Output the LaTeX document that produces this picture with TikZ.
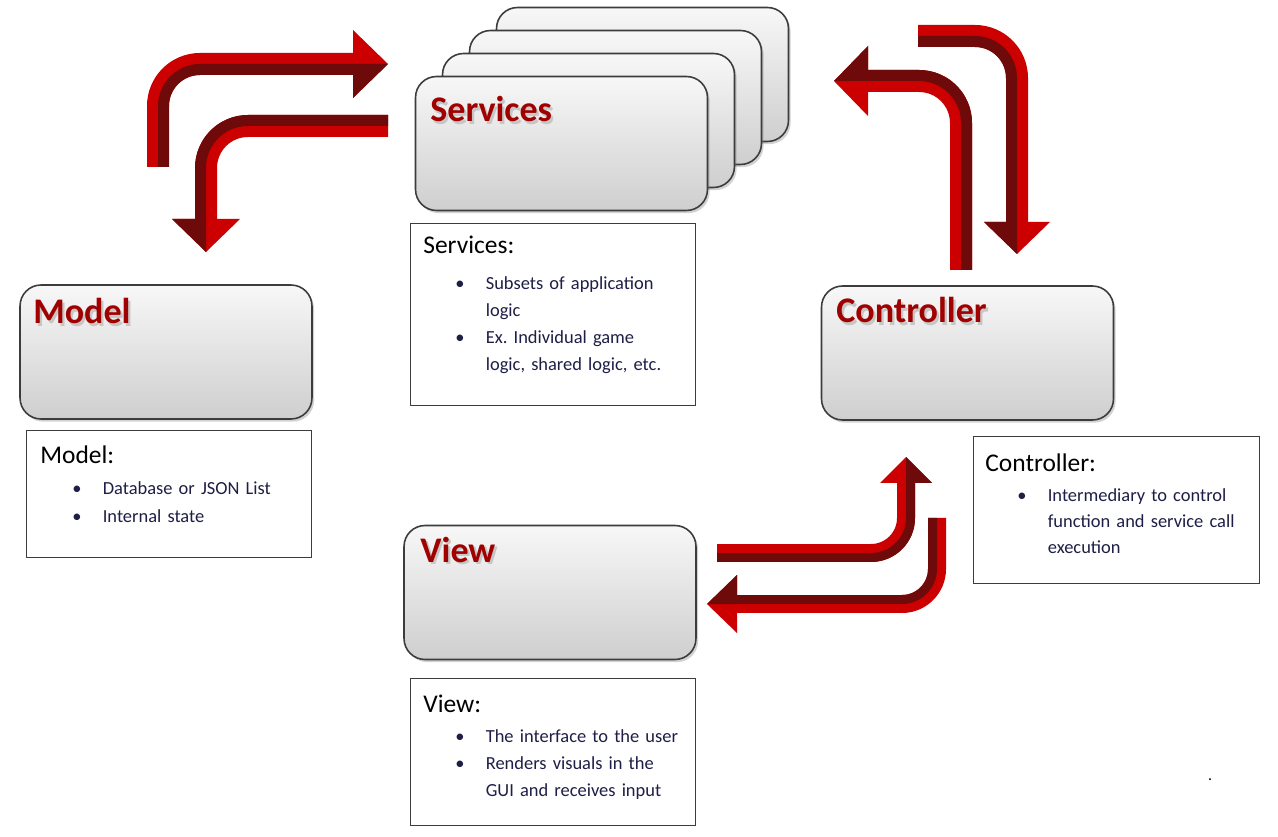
\documentclass[tikz,border=0pt]{standalone}
\usepackage{fontspec}
\setmainfont{Carlito}
\usetikzlibrary{shadows}
\frenchspacing

\definecolor{arrowred}{HTML}{CC0000}
\definecolor{arrowdark}{HTML}{6E0A0A}
\definecolor{titlered}{HTML}{A00000}
\definecolor{boxline}{HTML}{3C3C3C}
\definecolor{listtext}{HTML}{1E1E46}

\newcommand{\headfont}{\fontsize{14.5}{17}\selectfont}
\newcommand{\litem}[1]{\hspace*{0.64cm}\makebox[0.61cm][l]{\textbullet}#1}
\newcommand{\lcont}[1]{\hspace*{1.25cm}#1}
\newcommand{\ttl}[1]{\makebox[0pt][l]{\hspace{1.3pt}\raisebox{-1.3pt}{\color{gray!45}#1}}#1}

\tikzset{
	block/.style={draw=boxline, line width=0.9pt, rounded corners=0.42cm, top color=gray!6, bottom color=gray!38, minimum width=5.84cm, minimum height=2.68cm, drop shadow={shadow xshift=1.2pt, shadow yshift=-1.5pt, opacity=0.35}},
	blocktitle/.style={anchor=base west, text=titlered, inner sep=0pt, font=\bfseries\fontsize{20.5}{24}\selectfont},
	descbox/.style={draw=boxline, line width=0.8pt, fill=white, inner sep=0pt, minimum width=5.7cm, anchor=north west},
	desctext/.style={anchor=north west, inner sep=0pt, align=left, text width=5.5cm, text=listtext, font=\fontsize{10.5}{15.3}\selectfont},
	shaft/.style={draw=arrowred, line width=0.44cm},
	shaftshade/.style={draw=arrowdark, line width=0.22cm},
	thinshaft/.style={draw=arrowred, line width=0.36cm},
	thinshade/.style={draw=arrowdark, line width=0.18cm},
}

\begin{document}
\begin{tikzpicture}[x=0.02cm, y=-0.02cm]
	\fill[white] (0,0) rectangle (1278,837);
	\useasboundingbox (0,0) rectangle (1278,837);

	% services stack
	\node[block] (serv4) at (642.5,74.5) {};
	\node[block] (serv3) at (615.5,97.5) {};
	\node[block] (serv2) at (588.5,120.5) {};
	\node[block] (serv) at (561.5,143.5) {};
	\node[block] (model) at (166,352) {};
	\node[block] (ctrl) at (967.5,353) {};
	\node[block] (view) at (550,592.5) {};

	\node[blocktitle] (servtitle) at (430,122) {\ttl{Services}};
	\node[blocktitle] (modeltitle) at (33,324) {\ttl{Model}};
	\node[blocktitle] (ctrltitle) at (836,323) {\ttl{Controller}};
	\node[blocktitle] (viewtitle) at (420,562) {\ttl{View}};

	% description boxes
	\node[descbox, minimum height=3.64cm] (servdesc) at (410,223) {};
	\node[descbox, minimum height=2.54cm] (modeldesc) at (26,430) {};
	\node[descbox, minimum height=2.94cm, minimum width=5.72cm] (ctrldesc) at (973,436) {};
	\node[descbox, minimum height=2.94cm] (viewdesc) at (410,678) {};

	\node[desctext] (servtext) at (423,236) {{\headfont\color{black}Services:}\\[5pt]
		\litem{Subsets of application}\\
		\lcont{logic}\\
		\litem{Ex. Individual game}\\
		\lcont{logic, shared logic, etc.}};
	\node[desctext] (modeltext) at (40,445) {{\headfont\color{black}Model:}\\[2.5pt]
		\litem{Database or JSON List}\\[1pt]
		\litem{Internal state}};
	\node[desctext] (ctrltext) at (985,453) {{\headfont\color{black}Controller:}\\[2pt]
		\litem{Intermediary to control}\\[-0.5pt]
		\lcont{function and service call}\\[-0.5pt]
		\lcont{execution}};
	\node[desctext] (viewtext) at (423,695) {{\headfont\color{black}View:}\\[1.5pt]
		\litem{The interface to the user}\\
		\litem{Renders visuals in the}\\
		\lcont{GUI and receives input}};

	% model -> services
	\draw[shaft, rounded corners=0.84cm] (158,167) -- (158,64) -- (353,64);
	\draw[shaftshade, rounded corners=0.73cm] (163.5,167) -- (163.5,69.5) -- (353,69.5);
	\fill[arrowred] (353,30) -- (388,64) -- (353,98) -- cycle;
	\fill[arrowdark] (353,64) -- (388,64) -- (353,98) -- cycle;

	% services -> model
	\draw[shaft, rounded corners=0.84cm] (388,126) -- (206,126) -- (206,219);
	\draw[shaftshade, rounded corners=0.95cm] (388,120.5) -- (200.5,120.5) -- (200.5,219);
	\fill[arrowred] (172,219) -- (240,219) -- (206,252) -- cycle;
	\fill[arrowdark] (172,219) -- (206,219) -- (206,252) -- cycle;

	% controller -> services
	\draw[shaft, rounded corners=0.84cm] (961,270) -- (961,81) -- (868,81);
	\draw[shaftshade, rounded corners=0.95cm] (966.5,270) -- (966.5,75.5) -- (868,75.5);
	\fill[arrowred] (868,46) -- (834,81) -- (868,116) -- cycle;
	\fill[arrowdark] (868,46) -- (834,81) -- (868,81) -- cycle;

	% services -> controller
	\draw[shaft, rounded corners=0.84cm] (918,36) -- (1017,36) -- (1017,222);
	\draw[shaftshade, rounded corners=0.73cm] (918,41.5) -- (1011.5,41.5) -- (1011.5,222);
	\fill[arrowred] (984,222) -- (1050,222) -- (1017,254) -- cycle;
	\fill[arrowdark] (984,222) -- (1017,222) -- (1017,254) -- cycle;

	% view -> controller
	\draw[thinshaft, rounded corners=0.7cm] (717,553) -- (906,553) -- (906,483);
	\draw[thinshade, rounded corners=0.79cm] (717,557.5) -- (910.5,557.5) -- (910.5,483);
	\fill[arrowred] (880,483) -- (932,483) -- (906,457) -- cycle;
	\fill[arrowdark] (906,483) -- (932,483) -- (906,457) -- cycle;

	% controller -> view
	\draw[thinshaft, rounded corners=0.7cm] (937,518) -- (937,604) -- (737,604);
	\draw[thinshade, rounded corners=0.61cm] (932.5,518) -- (932.5,599.5) -- (737,599.5);
	\fill[arrowred] (737,575) -- (707,604) -- (737,633) -- cycle;
	\fill[arrowdark] (737,575) -- (707,604) -- (737,604) -- cycle;

	\node[anchor=base, inner sep=0pt, font=\small] (mark) at (1210,780) {.};
\end{tikzpicture}
\end{document}
